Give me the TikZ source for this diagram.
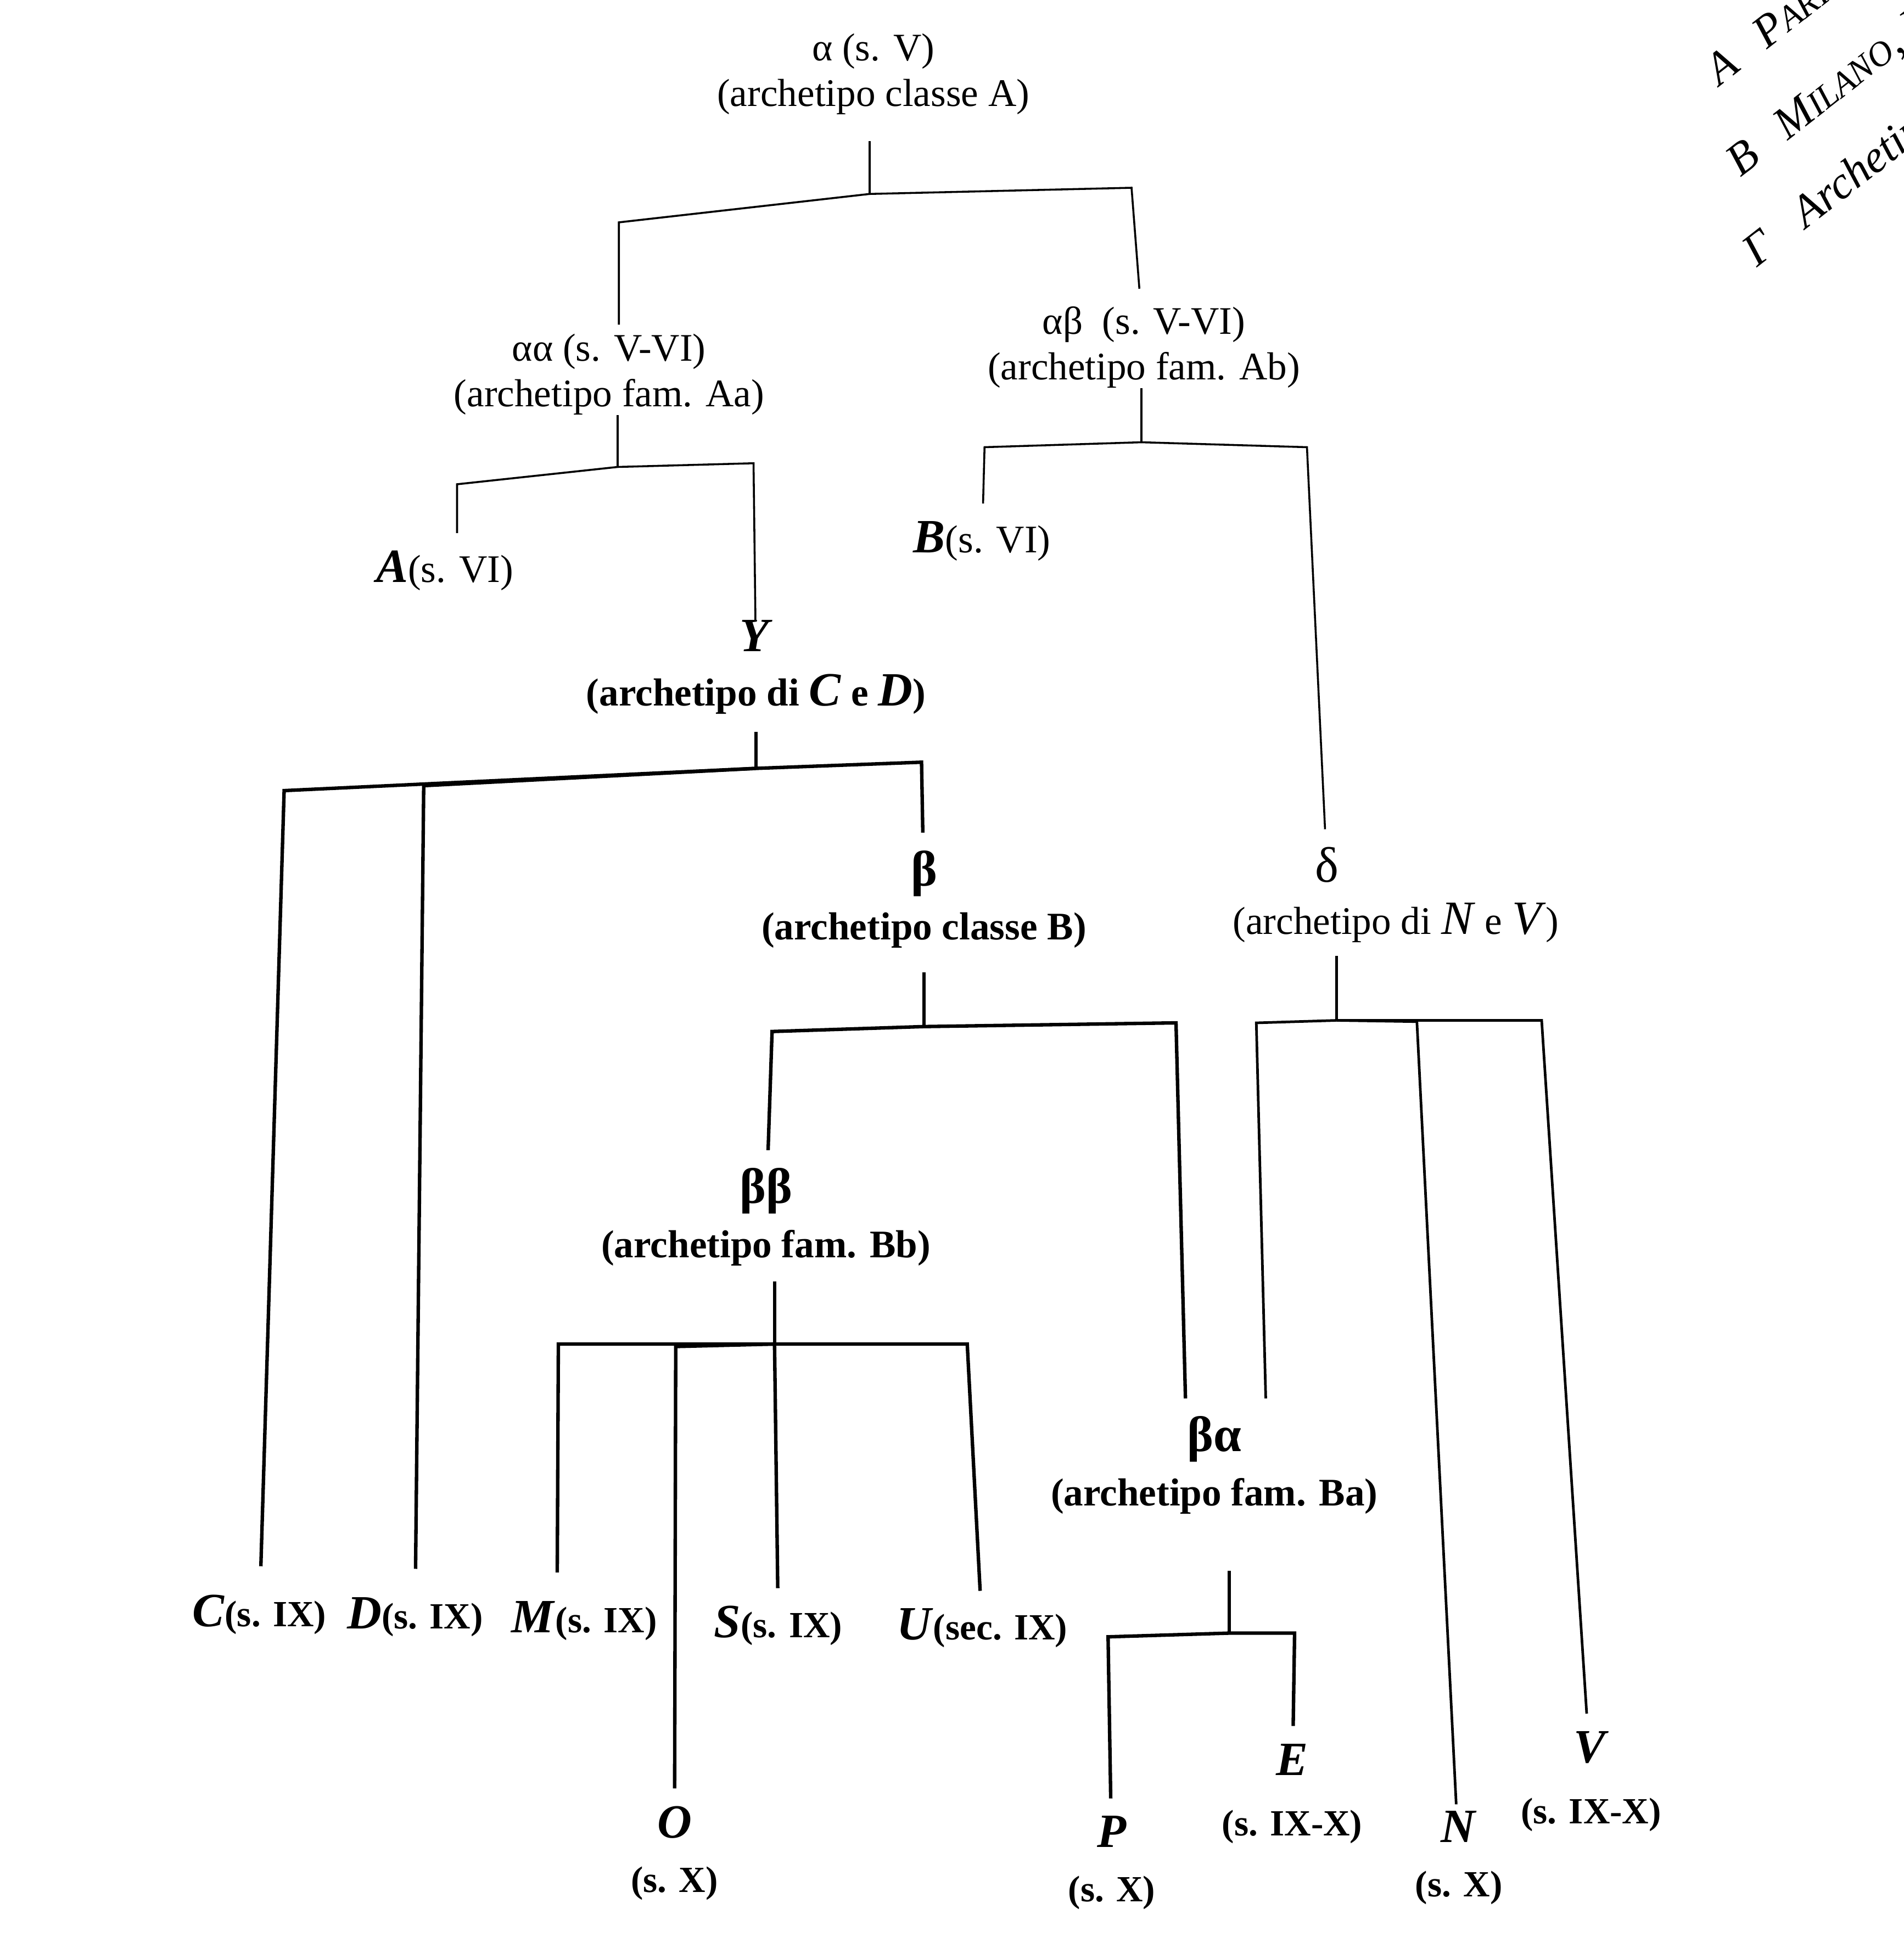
\documentclass[tikz,border=0pt]{standalone}
\usepackage{fontspec}
\setmainfont{Liberation Serif}
\usetikzlibrary{calc}
\newcommand{\sigla}[1]{{\fontsize{22}{21}\selectfont\textit{#1}}}
\newcommand{\greco}[1]{{\fontsize{23}{24}\selectfont #1}}
\tikzstyle{testo} = [inner sep=0pt, align=center, font=\fontsize{18}{21}\selectfont]
\tikzstyle{grassetto} = [inner sep=0pt, align=center, font=\fontsize{18}{25}\selectfont\bfseries]
\tikzstyle{codice} = [inner sep=0pt, align=center, font=\fontsize{17}{25}\selectfont\bfseries]
\tikzstyle{ramo} = [line width=0.9pt, shorten >=8pt]
\tikzstyle{ramospesso} = [ramo, line width=1.6pt]
\tikzstyle{tronco} = [line width=0.9pt, shorten <=6pt]
\tikzstyle{troncospesso} = [tronco, line width=1.6pt]
\tikzstyle{margine} = [inner sep=0pt, anchor=base west, rotate=38, font=\fontsize{21}{22}\selectfont\itshape]

\begin{document}
\begin{tikzpicture}[x=0.02cm, y=-0.02cm]
	\useasboundingbox (0,0) rectangle (1541,1568);
	\clip (0,0) rectangle (1541,1568);

	% archetipi
	\node[testo] (alfa) at (707,60) {α (s. V)\\(archetipo classe A)};
	\node[testo] (aa) at (493,303) {αα (s. V-VI)\\(archetipo fam. Aa)};
	\node[testo] (ab) at (926,281) {αβ\ \ (s. V-VI)\\(archetipo fam. Ab)};
	\node[testo] (A) at (360,462) {\sigla{\bfseries A}(s. VI)};
	\node[testo] (B) at (795,438) {\sigla{\bfseries B}(s. VI)};
	\node[grassetto] (Y) at (612,540) {\sigla{Y}\\(archetipo di \sigla{C} e \sigla{D})};
	\node[grassetto] (beta) at (748,728) {\greco{β}\\(archetipo classe B)};
	\node[testo] (delta) at (1074,700) {\greco{δ}};
	\node[testo] (deltaarch) at (1130,747) {(archetipo di \sigla{N} e \sigla{V})};
	\node[grassetto] (bb) at (620,985) {\greco{ββ}\\(archetipo fam. Bb)};
	\node[grassetto] (ba) at (983,1186) {\greco{βα}\\(archetipo fam. Ba)};

	% codici
	\node[codice] (C) at (210,1307) {\sigla{C}(s. IX)};
	\node[codice] (D) at (336,1309) {\sigla{D}(s. IX)};
	\node[codice] (M) at (473,1312) {\sigla{M}(s. IX)};
	\node[codice] (S) at (630,1316) {\sigla{S}(s. IX)};
	\node[codice] (U) at (795,1318) {\sigla{U}(sec. IX)};
	\node[codice] (O) at (546,1500) {\sigla{O}\\(s. X)};
	\node[codice] (P) at (900,1508) {\sigla{P}\\(s. X)};
	\node[codice] (E) at (1046,1452) {\sigla{E}\\[3pt](s. IX-X)};
	\node[codice] (N) at (1181,1504) {\sigla{N}\\(s. X)};
	\node[codice] (V) at (1288,1442) {\sigla{V}\\[3pt](s. IX-X)};

	% pagina accanto
	\node[margine] (parigi) at (1392,70) {Α\hspace{0.7em}P{\fontsize{16}{16}\selectfont ARI}};
	\node[margine] (milano) at (1409,144) {Β\hspace{0.7em}M{\fontsize{16}{16}\selectfont ILANO}, B};
	\node[margine] (gamma) at (1422,217) {Γ\hspace{0.8em}Archetip};

	% nodi dei rami
	\coordinate (jalfa) at (704,157); \coordinate (kaa) at (501,180); \coordinate (kab) at (916,152);
	\coordinate (jaa) at (500,378); \coordinate (kA) at (370,392); \coordinate (kY) at (610,375);
	\coordinate (jab) at (924,358); \coordinate (kB) at (797,362); \coordinate (kdelta) at (1058,362);
	\coordinate (jY) at (612,622); \coordinate (kC) at (230,640); \coordinate (kD) at (343,636); \coordinate (kbeta) at (746,617);
	\coordinate (jbeta) at (748,831); \coordinate (kbb) at (625,835); \coordinate (kba) at (952,828);
	\coordinate (jdelta) at (1082,826); \coordinate (kba2) at (1017,828); \coordinate (kN) at (1147,827); \coordinate (kV) at (1248,826);
	\coordinate (jbb) at (627,1088); \coordinate (kM) at (452,1088); \coordinate (kO) at (547,1090); \coordinate (kU) at (783,1088);
	\coordinate (jba) at (995,1322); \coordinate (kP) at (897,1325); \coordinate (kE) at (1048,1322);

	\draw[tronco, shorten <=12pt] (alfa.south -| jalfa) -- (jalfa);
	\draw[ramo, shorten >=4pt] (jalfa) -- (kaa) -- (kaa |- aa.north);
	\draw[ramo] (jalfa) -- (kab) -- (ab);

	\draw[tronco, shorten <=0pt] (aa.south -| jaa) -- (jaa);
	\draw[ramo] (jaa) -- (kA) -- (kA |- A.north);
	\draw[ramo, shorten >=0pt] (jaa) -- (kY) -- (Y);

	\draw[tronco, shorten <=0pt] (ab.south -| jab) -- (jab);
	\draw[ramo] (jab) -- (kB) -- (B);
	\draw[ramo] (jab) -- (kdelta) -- (delta);

	\draw[troncospesso, shorten <=8pt] (Y.south -| jY) -- (jY);
	\draw[ramospesso, shorten >=13pt] (jY) -- (kC) -- (C);
	\draw[ramospesso, shorten >=13pt] (jY) -- (kD) -- (D);
	\draw[ramospesso] (jY) -- (kbeta) -- (beta);

	\draw[troncospesso, shorten <=11pt] (beta.south -| jbeta) -- (jbeta);
	\draw[ramospesso] (jbeta) -- (kbb) -- (bb);
	\draw[ramospesso] (jbeta) -- (kba) -- ($(ba.north)+(-23,0)$);

	\draw[tronco, line width=1.2pt] (deltaarch.south -| jdelta) -- (jdelta);
	\draw[ramo, line width=1.2pt] (jdelta) -- (kba2) -- ($(ba.north)+(42,0)$);
	\draw[ramo, line width=1.2pt, shorten >=3pt] (jdelta) -- (kN) -- (N);
	\draw[ramo, line width=1.2pt] (jdelta) -- (kV) -- (V);

	\draw[troncospesso, shorten <=7pt] (bb.south -| jbb) -- (jbb);
	\draw[ramospesso, shorten >=13pt] (jbb) -- (kM) -- ($(M.north)+(-22,0)$);
	\draw[ramospesso] (jbb) -- (kO) -- (O);
	\draw[ramospesso] (jbb) -- (S);
	\draw[ramospesso] (jbb) -- (kU) -- (U);

	\draw[troncospesso, shorten <=26pt] (ba.south -| jba) -- (jba);
	\draw[ramospesso] (jba) -- (kP) -- (P);
	\draw[ramospesso] (jba) -- (kE) -- (E);
\end{tikzpicture}
\end{document}
